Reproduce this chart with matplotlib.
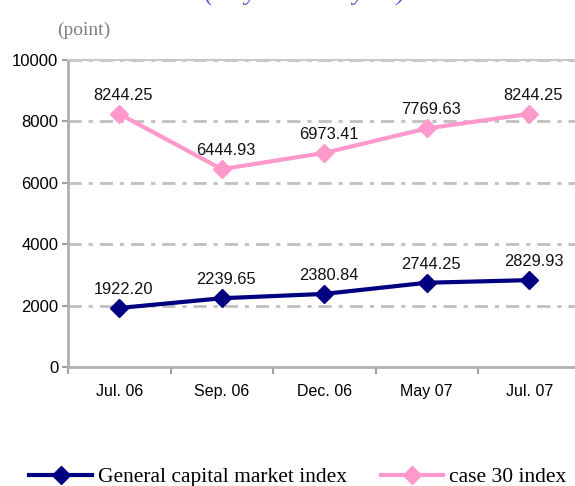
import matplotlib
matplotlib.use("Agg")
import matplotlib.pyplot as plt
from matplotlib.lines import Line2D

categories = ["Jul. 06", "Sep. 06", "Dec. 06", "May 07", "Jul. 07"]
general_index = [1922.20, 2239.65, 2380.84, 2744.25, 2829.93]
case30_index = [8244.25, 6444.93, 6973.41, 7769.63, 8244.25]
yticks = [0, 2000, 4000, 6000, 8000, 10000]

plt.rcParams['lines.scale_dashes'] = False
sans = ['Liberation Sans', 'DejaVu Sans']
serif = ['Liberation Serif', 'DejaVu Serif']

W, H = 575, 486
fig = plt.figure(figsize=(W / 100, H / 100), dpi=100)
ax = fig.add_axes([68 / W, (H - 367) / H, 512.5 / W, 307 / H])

x = list(range(len(categories)))
navy = '#000080'
pink = '#ff99cc'
grid_c = '#c0c0c0'

for v in yticks[1:]:
    ax.axhline(v, color=grid_c, lw=2, dashes=(9.5, 5, 3, 5), zorder=1)

ax.plot(x, case30_index, color=pink, lw=3, marker='D', ms=9, zorder=3)
ax.plot(x, general_index, color=navy, lw=3, marker='D', ms=9, zorder=3)

for xi, v in zip(x, case30_index):
    ax.annotate(f"{v:.2f}", (xi, v), xytext=(3, 8), textcoords='offset points',
                ha='center', va='bottom', fontsize=11.8, family=sans, color='#111111')
for xi, v in zip(x, general_index):
    ax.annotate(f"{v:.2f}", (xi, v), xytext=(3, 8), textcoords='offset points',
                ha='center', va='bottom', fontsize=11.8, family=sans, color='#111111')

ax.set_xlim(-0.5, 4.5)
ax.set_ylim(0, 10000)
ax.set_yticks(yticks)
ax.set_yticklabels([str(v) for v in yticks], fontsize=12, family=sans)
ax.set_xticks([i - 0.5 for i in range(len(categories) + 1)])
ax.set_xticklabels([])
ax.set_xticks(x, minor=True)
ax.set_xticklabels(categories, minor=True, fontsize=11.5, family=sans)
ax.tick_params(axis='x', which='minor', length=0, pad=12)
ax.tick_params(axis='x', which='major', length=5, width=1.5, color='#a0a0a0', direction='out')
ax.tick_params(axis='y', length=4, width=1.5, color='#a0a0a0', direction='out', pad=3)

ax.spines['right'].set_visible(False)
ax.spines['top'].set_color('#c8c8c8')
ax.spines['top'].set_linewidth(1.5)
for s in ['left', 'bottom']:
    ax.spines[s].set_color('#b0b0b0')
    ax.spines[s].set_linewidth(2)

fig.text(84 / W, 1 - 30 / H, "(point)", ha='center', va='center',
         fontsize=14, family=serif, color='#808080')
fig.text(305 / W, 1 - 1 / H, "(July 06 to July 07)", ha='center', va='baseline',
         fontsize=18.5, family=serif, style='italic', color='#6655cc')

handles = [Line2D([], [], color=navy, lw=3, marker='D', ms=9),
           Line2D([], [], color=pink, lw=3, marker='D', ms=9)]
fig.legend(handles, ["General capital market index", "case 30 index"],
           loc='center', bbox_to_anchor=(298 / W, 1 - 477 / H), ncol=2, frameon=False,
           prop={'family': serif, 'size': 15.5}, handlelength=2.9, handletextpad=0.28,
           columnspacing=1.58, borderpad=0.1)

fig.savefig("out.png", dpi=100)
